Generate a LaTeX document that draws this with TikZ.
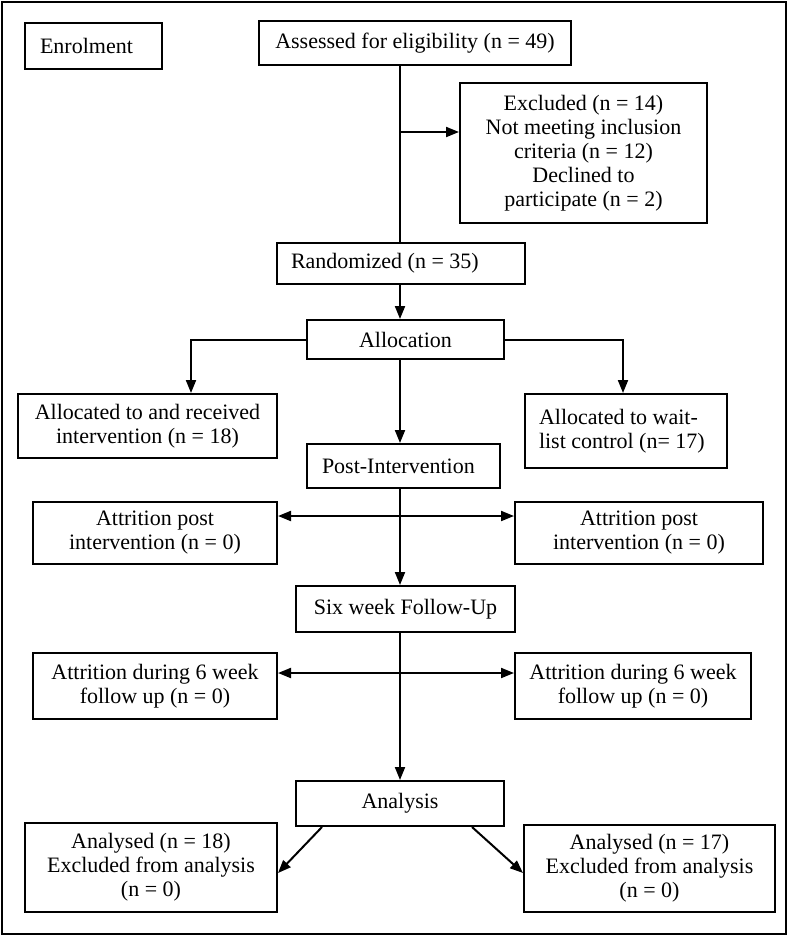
\documentclass[tikz,border=0pt]{standalone}
\usepackage{fontspec}
\setmainfont{Liberation Serif}
\usetikzlibrary{arrows.meta}
\begin{document}
\begin{tikzpicture}[x=1pt,y=-1pt,
  box/.style={draw, line width=2pt, inner sep=0pt, align=center,
    font=\fontsize{22}{24}\selectfont},
  lbox/.style={box, align=flush left},
  conn/.style={line width=2pt},
  arr/.style={conn, -{Triangle[length=13pt,width=10pt]}},
  darr/.style={conn, {Triangle[length=13pt,width=10pt]}-{Triangle[length=13pt,width=10pt]}}]
\useasboundingbox (0,0) rectangle (789,937);
\draw[line width=2.2pt] (2,2) rectangle (786,934);

\node[lbox, inner xsep=15pt, text width=107pt, minimum height=46pt] (enrol) at (93.5,46) {Enrolment};
\node[box, minimum width=312pt, minimum height=44pt] (assess) at (415,43) {Assessed for eligibility (n = 49)};
\node[box, minimum width=247pt, minimum height=140pt] (excl) at (583.5,153) {Excluded (n = 14)\\Not meeting inclusion\\criteria (n = 12)\\Declined to\\participate (n = 2)};
\node[lbox, inner xsep=14pt, text width=220pt, minimum height=41pt] (rand) at (401,263.5) {Randomized (n = 35)};
\node[box, minimum width=197pt, minimum height=39pt] (alloc) at (405.5,339.5) {Allocation};
\node[box, minimum width=259pt, minimum height=64pt] (allocL) at (147.5,426) {Allocated to and received\\intervention (n = 18)};
\node[lbox, inner xsep=14pt, text width=174pt, minimum height=74pt] (allocR) at (626,431) {Allocated to wait-\\list control (n= 17)};
\node[lbox, inner xsep=15pt, text width=163pt, minimum height=44pt] (post) at (403.5,466) {Post-Intervention};
\node[box, minimum width=244pt, minimum height=62pt] (attL1) at (155,533) {Attrition post\\intervention (n = 0)};
\node[box, minimum width=248pt, minimum height=62pt] (attR1) at (639,533) {Attrition post\\intervention (n = 0)};
\node[box, minimum width=219pt, minimum height=46pt] (six) at (405.5,609) {Six week Follow-Up};
\node[box, minimum width=244pt, minimum height=66pt] (attL2) at (155,686) {Attrition during 6 week\\follow up (n = 0)};
\node[box, minimum width=236pt, minimum height=66pt] (attR2) at (633,686) {Attrition during 6 week\\follow up (n = 0)};
\node[box, minimum width=208pt, minimum height=45pt] (anal) at (400,803.5) {Analysis};
\node[box, minimum width=252pt, minimum height=89pt] (anL) at (151,867.5) {Analysed (n = 18)\\Excluded from analysis\\(n = 0)};
\node[box, minimum width=251pt, minimum height=87pt] (anR) at (649.5,868.5) {Analysed (n = 17)\\Excluded from analysis\\(n = 0)};

% spine
\coordinate (s1) at (400,132);
\draw[line width=1.6pt] ([xshift=-15pt]assess.south) -- ([xshift=-1pt]rand.north);
\draw[arr] (s1) -- (s1 -| excl.west);
\draw[arr] ([xshift=-1pt]rand.south) -- ([xshift=-5.5pt]alloc.north);
\draw[arr] (alloc.west) -| ([xshift=43.5pt]allocL.north);
\draw[arr] (alloc.east) -| ([xshift=-3pt]allocR.north);
\draw[arr] ([xshift=-5.5pt]alloc.south) -- ([xshift=-3.5pt]post.north);
\draw[arr] ([xshift=-3.5pt]post.south) -- ([xshift=-5.5pt]six.north);
\draw[darr] ([yshift=17pt]attL1.east) -- ([yshift=17pt]attR1.west);
\draw[arr] ([xshift=-5.5pt]six.south) -- (anal.north);
\draw[darr] ([yshift=13pt]attL2.east) -- ([yshift=13pt]attR2.west);
\draw[arr] ([xshift=-78pt]anal.south) -- ([yshift=-5.5pt]anL.east);
\draw[arr] ([xshift=72pt]anal.south) -- ([yshift=-4.5pt]anR.west);
\end{tikzpicture}
\end{document}
